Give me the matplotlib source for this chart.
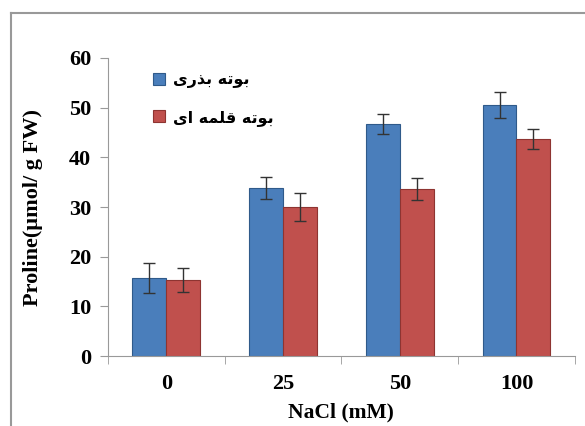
import matplotlib
matplotlib.use("Agg")
import matplotlib.pyplot as plt
import numpy as np
from matplotlib.lines import Line2D

# data
nacl = ["0", "25", "50", "100"]
seedling = [15.7, 33.8, 46.7, 50.5]
seedling_err = [3.0, 2.2, 2.0, 2.6]
cutting = [15.3, 30.0, 33.6, 43.7]
cutting_err = [2.4, 2.8, 2.2, 2.0]

# legend labels (Persian), pre-shaped presentation forms in logical order
lab_seedling = "\uFE91\uFEEE\uFE97\uFEEA \uFE91\uFEAC\uFEAD\uFBFC"      # بوته بذری
lab_cutting = "\uFE91\uFEEE\uFE97\uFEEA \uFED7\uFEE0\uFEE4\uFEEA \uFE8D\uFBFC"  # بوته قلمه ای

def visual(s):
    # matplotlib draws left to right, so reverse for RTL
    return s[::-1]

blue = "#4a7ebb"
red = "#c0504d"

fig = plt.figure(figsize=(5.85, 4.26), dpi=100)
ax = fig.add_axes([0.1846, 0.164, 0.798, 0.700])

x = np.arange(len(nacl))
w = 0.29
ax.bar(x - w/2, seedling, w, color=blue, edgecolor="#2f5a8a", linewidth=0.8,
       label=visual(lab_seedling))
ax.bar(x + w/2, cutting, w, color=red, edgecolor="#8e3431", linewidth=0.8,
       label=visual(lab_cutting))
ax.errorbar(x - w/2, seedling, yerr=seedling_err, fmt="none", ecolor="#333333",
            elinewidth=1, capsize=4, capthick=1)
ax.errorbar(x + w/2, cutting, yerr=cutting_err, fmt="none", ecolor="#333333",
            elinewidth=1, capsize=4, capthick=1)

ax.set_xlim(-0.5, 3.5)
ax.set_ylim(0, 60)
ax.set_yticks(range(0, 61, 10))
ax.set_xticks(x)
ax.set_xticklabels(nacl)
ax.set_xticks(np.arange(-0.5, 3.6, 1), minor=True)
ax.tick_params(axis="x", which="major", length=0, pad=13)
ax.tick_params(axis="x", which="minor", length=6, color="#999999")
ax.tick_params(axis="y", length=6, color="#999999", pad=6)

for s in ["top", "right"]:
    ax.spines[s].set_visible(False)
for s in ["left", "bottom"]:
    ax.spines[s].set_color("#999999")

serif = {"family": "Liberation Serif", "weight": "bold"}
for t in ax.get_xticklabels() + ax.get_yticklabels():
    t.set_fontfamily("Liberation Serif")
    t.set_fontweight("bold")
    t.set_fontsize(16)

ax.set_xlabel("NaCl (mM)", fontsize=15.5, labelpad=6, **serif)
ax.set_ylabel("Proline(\u00b5mol/ g FW)", fontsize=16, labelpad=19, **serif)

leg = ax.legend(loc="upper left", bbox_to_anchor=(0.065, 1.0), frameon=False,
                handlelength=0.8, handleheight=0.8, handletextpad=0.5,
                labelspacing=1.35,
                prop={"family": "DejaVu Sans", "weight": "bold", "size": 11.5})

# outer grey frame of the original scan
fig.add_artist(Line2D([0.0188, 0.0188], [0.0, 0.9695], color="#999999", lw=1.5))
fig.add_artist(Line2D([0.0188, 1.0], [0.9695, 0.9695], color="#999999", lw=1.5))

fig.savefig("out.png", dpi=100)
